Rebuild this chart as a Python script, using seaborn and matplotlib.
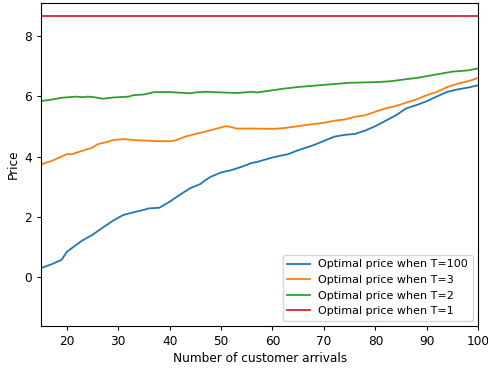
import pandas as pd
import matplotlib
matplotlib.use("Agg")
import matplotlib.pyplot as plt
import seaborn as sns


# price curves

x_t100 = [15, 17, 19, 20, 21, 23, 25, 27, 29, 31, 33, 35, 36, 38, 40, 42, 44, 46, 47, 48,
          50, 52, 54, 56, 57, 60, 63, 65, 68, 70, 72, 74, 76, 78, 80, 82, 84, 86, 88,
          90, 92, 94, 96, 98, 100]
y_t100 = [0.30, 0.42, 0.57, 0.83, 0.96, 1.21, 1.40, 1.64, 1.87, 2.06, 2.15, 2.23, 2.28, 2.30,
          2.50, 2.73, 2.95, 3.09, 3.22, 3.33, 3.47, 3.55, 3.66, 3.79, 3.82, 3.97, 4.08,
          4.21, 4.38, 4.52, 4.66, 4.72, 4.75, 4.86, 5.01, 5.19, 5.37, 5.60, 5.71, 5.84,
          6.00, 6.15, 6.23, 6.29, 6.37]

x_t3 = [15, 17, 19, 20, 21, 23, 25, 26, 28, 29, 31, 33, 35, 38, 40, 41, 43, 45, 47, 49,
        51, 52, 53, 56, 60, 62, 65, 68, 70, 72, 74, 76, 78, 80, 82, 84, 86, 88, 90, 92,
        94, 96, 98, 100]
y_t3 = [3.74, 3.85, 4.00, 4.08, 4.08, 4.19, 4.30, 4.41, 4.49, 4.55, 4.58, 4.55, 4.53, 4.51,
        4.51, 4.53, 4.66, 4.75, 4.83, 4.92, 5.01, 4.98, 4.93, 4.93, 4.92, 4.94, 5.01, 5.08,
        5.12, 5.19, 5.23, 5.32, 5.37, 5.49, 5.60, 5.68, 5.79, 5.90, 6.04, 6.15, 6.31, 6.42,
        6.50, 6.61]

x_t2 = [15, 17, 19, 21, 22, 23, 24, 25, 27, 29, 31, 32, 33, 35, 37, 40, 44, 45, 47, 50,
        53, 56, 57, 60, 62, 65, 70, 75, 80, 83, 86, 88, 90, 92, 95, 98, 100]
y_t2 = [5.84, 5.89, 5.95, 5.98, 5.99, 5.97, 5.99, 5.98, 5.92, 5.96, 5.98, 5.99, 6.04, 6.06,
        6.14, 6.14, 6.10, 6.13, 6.15, 6.13, 6.11, 6.15, 6.13, 6.20, 6.25, 6.31, 6.38, 6.45,
        6.47, 6.50, 6.57, 6.61, 6.67, 6.73, 6.82, 6.86, 6.93]

x_t1 = [15, 100]
y_t1 = [8.66, 8.66]

labels = ["Optimal price when T=100", "Optimal price when T=3",
          "Optimal price when T=2", "Optimal price when T=1"]
colors = ["#1f77b4", "#ff7f0e", "#2ca02c", "#d62728"]


# build long dataframe

frames = []
for lab, xs, ys in zip(labels, [x_t100, x_t3, x_t2, x_t1], [y_t100, y_t3, y_t2, y_t1]):
    frames.append(pd.DataFrame({"x": xs, "y": ys, "series": lab}))
df = pd.concat(frames, ignore_index=True)


# plot

plt.rcParams.update({"font.size": 8.7, "xtick.major.size": 3.0, "ytick.major.size": 3.0})

fig = plt.figure(figsize=(4.88, 3.71), dpi=100)
ax = fig.add_axes([0.084, 0.121, 0.896, 0.871])

sns.lineplot(data=df, x="x", y="y", hue="series", hue_order=labels,
             palette=dict(zip(labels, colors)), linewidth=1.3, ax=ax)

ax.set_xlim(15, 100)
ax.set_ylim(-1.63, 9.1)
ax.set_yticks([0, 2, 4, 6, 8])
ax.set_xticks([20, 30, 40, 50, 60, 70, 80, 90, 100])
ax.set_xlabel("Number of customer arrivals", labelpad=3)
ax.set_ylabel("Price", labelpad=3)
ax.legend(loc="lower right", fontsize=8)

fig.savefig("out.png", dpi=100)
